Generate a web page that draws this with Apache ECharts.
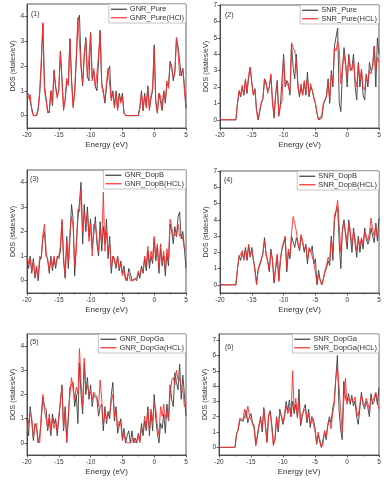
<!DOCTYPE html>
<html>
<head>
<meta charset="utf-8">
<script src="https://cdn.jsdelivr.net/npm/echarts@6/dist/echarts.min.js"></script>
<style>
  html, body { margin: 0; padding: 0; background: #fff; }
  #dos { width: 391px; height: 480px; }
</style>
</head>
<body>
<div id="dos"></div>
<script>
// energy grid (eV), 0.25 eV step
const energy = [
  -20,-19.75,-19.5,-19.25,-19,-18.75,-18.5,-18.25,-18,-17.75,-17.5,-17.25,-17,-16.75,-16.5,-16.25,-16,-15.75,-15.5,-15.25,
  -15,-14.75,-14.5,-14.25,-14,-13.75,-13.5,-13.25,-13,-12.75,-12.5,-12.25,-12,-11.75,-11.5,-11.25,-11,-10.75,-10.5,-10.25,
  -10,-9.75,-9.5,-9.25,-9,-8.75,-8.5,-8.25,-8,-7.75,-7.5,-7.25,-7,-6.75,-6.5,-6.25,-6,-5.75,-5.5,-5.25,
  -5,-4.75,-4.5,-4.25,-4,-3.75,-3.5,-3.25,-3,-2.75,-2.5,-2.25,-2,-1.75,-1.5,-1.25,-1,-0.75,-0.5,-0.25,
  0,0.25,0.5,0.75,1,1.25,1.5,1.75,2,2.25,2.5,2.75,3,3.25,3.5,3.75,4,4.25,4.5,4.75,
  5
];

const xTicks = [-20, -15, -10, -5, 0, 5];
const yTicksGnr = [0, 1, 2, 3, 4];
const yTicksSnr = [0, 1, 2, 3, 4, 5, 6, 7];

// (1) GNR pure
const gnrPure = [
  0.95,0.85,0.9,0.3, 0,0,0,0.2, 0.9,2.0,3.7,1.2, 0.7,0.2,0.1,1.0, 0.4,1.8,1.2,0.8,
  1.0,2.6,1.5,0.3, 0.6,1.4,1.3,3.1, 1.5,0.4,0.9,2.2, 3.8,4.05,2.1,1.2, 2.4,3.15,1.6,1.4,
  3.35,1.5,1.8,1.2, 1.0,2.2,3.45,1.3, 1.0,0.5,1.2,1.8, 2.0,0.7,1.0,0.4, 1.0,0.3,0.9,0.6,
  0.9,0.1,0,0, 0,0,0,0, 0,0,0,0.3, 1.0,0.2,0.9,0.4, 1.2,0.3,0.7,1.0,
  2.85,0.6,0.1,0.9, 0.9,0.2,1.0,0.5, 1.3,1.2,2.2,2.0, 1.4,1.8,3.1,2.8, 2.2,1.6,1.9,1.2,
  0.3
];
const gnrPureHcl = [
  0.9,0.7,0.85,0.2, 0,0,0,0.3, 1.0,2.3,3.75,1.0, 0.6,0.1,0.2,1.0, 0.5,1.85,1.1,0.7,
  1.1,2.55,1.4,0.2, 0.7,1.5,1.2,3.1, 1.4,0.3,1.0,2.4, 3.95,3.9,1.9,1.3, 2.5,3.05,1.5,1.5,
  3.3,1.4,1.9,1.1, 1.1,2.4,3.35,1.2, 0.9,0.6,1.3,1.9, 1.9,0.6,0.9,0.3, 0.9,0.2,0.8,0.5,
  0.8,0.1,0,0, 0,0,0,0, 0,0,0,0.4, 0.9,0.2,0.8,0.3, 1.1,0.2,0.8,1.1,
  2.7,0.5,0.1,0.9, 0.8,0.3,1.0,0.6, 1.4,1.1,2.1,1.9, 1.5,1.7,3.15,2.6, 1.6,1.7,1.9,1.0,
  0.3
];

// (2) SNR pure
const snrPure = [
  0,0,0,0, 0,0,0,0, 0,0,0,1.0, 1.7,1.4,2.0,1.5, 2.4,1.6,2.6,3.2,
  2.2,1.5,1.9,0.6, 0.0,0.5,1.0,1.3, 2.5,2.4,1.8,2.0, 2.7,1.2,0.1,1.5, 2.4,0.3,0.9,1.0,
  4.0,2.0,2.4,2.2, 1.5,4.6,3.2,2.5, 4.0,2.0,1.4,2.0, 1.5,2.3,1.5,2.9, 1.4,2.0,1.8,1.3,
  1.0,0.4,0.0,0.0, 0.1,0.9,0.8,1.5, 2.5,1.0,3.0,2.0, 4.5,4.4,5.6,1.0, 0.5,3.0,4.4,3.5,
  2.0,4.0,3.0,3.2, 4.0,2.0,1.2,3.5, 2.0,3.0,1.5,1.2, 2.8,2.0,3.5,3.0, 3.2,4.5,2.0,5.0,
  4.0
];
const snrPureHcl = [
  0,0,0,0, 0,0,0,0, 0,0,0,1.0, 1.8,1.5,2.1,1.5, 2.5,1.7,2.7,3.2,
  2.3,1.5,1.8,0.5, 0.0,0.6,1.1,1.3, 2.5,2.3,1.6,2.0, 2.8,1.0,0.3,1.6, 2.2,0.2,0.9,1.1,
  3.8,2.1,2.3,2.0, 1.7,4.7,4.4,4.2, 3.6,2.2,1.5,2.2, 1.5,2.4,1.6,2.6, 1.5,2.2,1.8,1.4,
  1.0,0.4,0.0,0.1, 0.3,1.0,0.9,1.4, 2.3,1.2,2.8,2.2, 4.4,4.2,4.8,4.3, 2.2,3.2,4.0,3.3,
  2.6,3.8,3.2,3.0, 3.6,2.5,2.0,3.4, 2.4,3.1,2.0,1.8, 2.7,2.2,3.0,2.8, 3.3,4.5,3.0,3.8,
  3.5
];

// (3) GNR B-doped
const gnrDopB = [
  0.9,0.5,1.0,0.3, 0.9,0.1,0.5,0.0, 0.8,1.0,1.7,2.0, 1.0,0.9,0.3,1.0, 0.4,0.9,0.5,1.0,
  0.9,1.2,2.4,0.8, 0.1,1.8,0.5,1.7, 3.1,2.5,0.2,1.5, 2.5,3.2,4.0,1.5, 3.1,2.0,3.0,1.8,
  2.5,1.3,1.9,2.6, 1.5,1.0,2.4,1.2, 2.2,1.5,2.5,0.9, 1.8,0.3,1.0,0.8, 0.5,1.0,0.4,0.8,
  0.3,0.6,0.1,0.0, 0.5,0.3,0.0,0.0, 0.1,0.0,0.3,0.1, 0.6,0.3,0.9,0.4, 1.2,0.5,1.0,0.7,
  1.7,0.8,1.4,0.3, 1.3,0.6,1.0,0.2, 1.1,0.6,2.3,2.0, 1.5,2.2,1.8,2.6, 2.8,1.7,2.0,1.3,
  0.5
];
const gnrDopBHcl = [
  1.1,0.7,0.9,0.4, 0.8,0.2,0.6,0.1, 1.0,0.9,1.9,2.3, 1.2,0.8,0.4,0.9, 0.6,1.0,0.6,0.9,
  1.0,1.4,2.5,1.0, 0.2,1.6,0.8,2.0, 2.6,2.2,0.6,1.2, 2.9,2.8,3.7,2.0, 2.8,2.3,2.7,1.6,
  2.3,1.0,2.3,2.2, 1.7,1.2,2.1,1.5, 3.6,1.2,2.0,1.2, 1.5,0.5,1.0,0.9, 0.6,1.0,0.5,0.7,
  0.2,0.4,0.0,0.0, 0.3,0.0,0.0,0.0, 0.0,0.1,0.4,0.2, 0.5,0.4,1.0,0.6, 1.4,0.7,1.2,0.9,
  1.8,1.0,1.5,0.5, 1.5,0.8,1.2,0.4, 1.3,0.9,2.5,2.2, 1.8,1.9,1.8,2.3, 1.8,1.9,1.7,1.3,
  1.3
];

// (4) SNR B-doped
const snrDopB = [
  0,0,0,0, 0,0,0,0, 0,0,0,1.0, 1.8,1.5,2.0,1.6, 2.3,1.5,2.4,1.7,
  2.3,1.5,1.0,0.1, 0.9,1.0,1.5,2.0, 2.9,1.8,1.5,0.8, 2.2,1.5,0.1,1.0, 1.8,0.3,1.5,2.2,
  2.5,2.9,0.8,2.0, 1.6,3.0,3.0,2.3, 2.9,2.5,2.1,3.0, 2.6,2.0,2.5,1.3, 2.2,2.0,2.4,1.3,
  1.6,0.0,0.9,0.3, 0.0,0.1,0.8,1.0, 1.5,1.2,3.0,1.5, 4.0,4.5,4.8,2.5, 1.0,3.5,4.0,3.0,
  2.2,4.0,3.0,2.0, 3.5,2.5,1.7,3.0, 2.0,2.8,2.2,3.5, 2.8,2.5,2.8,3.5, 3.0,2.6,3.8,2.7,
  4.1
];
const snrDopBHcl = [
  0,0,0,0, 0,0,0,0, 0,0,0,1.0, 1.7,1.6,2.1,1.5, 2.2,1.6,2.5,1.8,
  2.2,1.6,0.8,0.0, 1.0,1.1,1.6,1.9, 2.7,1.9,1.4,0.9, 2.0,1.6,0.2,1.1, 1.9,0.2,1.6,2.3,
  2.4,3.0,1.0,2.2, 1.8,3.2,4.2,3.8, 3.3,2.6,2.2,3.1, 2.6,2.2,2.4,1.5, 2.3,2.1,2.2,1.4,
  1.4,0.1,0.6,0.5, 0.0,0.3,0.9,1.2, 1.7,1.5,2.8,2.0, 4.3,4.6,5.2,3.6, 2.0,3.3,3.8,3.2,
  2.6,3.8,3.3,2.4, 3.3,2.8,2.1,2.8, 2.4,2.9,2.5,3.3, 3.0,2.7,3.2,4.1, 3.4,3.0,3.7,2.9,
  3.0
];

// (5) GNR Ga-doped
const gnrDopGa = [
  1.0,0.3,1.5,0.9, 0.1,0.8,0.6,0.0, 0.3,1.0,1.9,1.5, 1.4,0.5,1.0,0.3, 1.2,0.8,1.0,0.3,
  1.0,1.0,2.4,0.5, 1.5,0.1,1.0,2.3, 2.3,2.5,1.5,2.0, 0.8,3.3,2.0,1.2, 3.3,2.0,2.7,1.8,
  2.4,1.5,2.0,1.9, 1.8,1.1,1.5,1.6, 0.5,1.5,0.8,1.3, 1.0,2.0,2.5,0.9, 1.5,0.4,0.7,1.0,
  0.2,0.6,0.0,0.3, 0.5,0.0,0.5,0.0, 0.2,0.0,0.4,0.1, 0.8,0.3,0.9,0.5, 1.5,0.3,1.3,0.5,
  2.0,1.0,0.4,0.0, 0.8,0.6,1.2,0.4, 1.6,1.0,2.4,1.8, 1.5,2.9,2.5,2.2, 3.25,1.8,2.8,2.0,
  1.1
];
const gnrDopGaHcl = [
  0.4,0.9,1.2,1.0, 0.2,0.7,0.8,0.1, 0.0,1.2,2.0,1.3, 1.0,0.6,1.2,0.5, 1.0,0.6,0.9,0.5,
  1.1,1.1,2.3,0.6, 1.3,0.0,1.2,2.0, 2.7,2.2,1.8,2.3, 2.0,3.9,2.5,1.5, 3.5,2.3,2.4,2.0,
  2.1,1.8,2.1,2.0, 1.9,1.5,2.6,1.8, 0.7,1.3,1.0,1.1, 1.2,1.7,2.0,1.1, 1.3,0.6,0.9,0.8,
  0.1,0.4,0.1,0.0, 0.0,0.0,0.1,0.2, 0.0,0.1,0.3,0.0, 0.6,0.5,1.1,0.6, 1.4,0.5,1.4,0.9,
  1.6,1.4,0.7,0.3, 1.5,1.1,1.6,1.0, 1.3,0.9,2.0,2.6, 2.7,2.4,3.0,2.6, 2.7,2.3,2.2,1.5,
  1.6
];

// (6) SNR Ga-doped
const snrDopGa = [
  0,0,0,0, 0,0,0,0, 0,0,0,0.9, 1.1,1.8,1.9,1.7, 2.0,2.4,1.6,2.0,
  2.2,1.6,1.4,0.2, 0.7,1.4,2.0,1.0, 2.6,1.5,0.4,2.1, 2.4,1.5,0.2,0.5, 2.0,1.0,2.5,2.0,
  1.5,2.2,3.0,2.4, 3.1,2.0,3.0,2.2, 2.8,2.0,3.8,1.4, 2.0,2.5,2.8,1.6, 2.5,1.3,2.0,1.8,
  1.3,0.2,0.8,0.5, 0.0,0.0,1.0,0.5, 1.5,2.0,1.6,2.5, 3.0,4.5,6.0,2.5, 1.2,0.5,4.3,3.2,
  3.0,3.5,2.8,3.4, 2.7,3.0,2.0,1.5, 2.5,3.6,2.8,2.5, 3.0,2.6,2.0,3.5, 2.8,3.0,3.5,2.8,
  3.9
];
const snrDopGaHcl = [
  0,0,0,0, 0,0,0,0, 0,0,0,0.9, 1.2,1.9,2.0,1.8, 2.5,1.9,2.7,2.1,
  1.8,1.5,1.2,0.1, 0.8,1.5,1.8,1.2, 2.5,1.4,0.3,2.0, 2.3,1.3,0.1,0.6, 1.9,1.2,2.3,2.1,
  1.6,2.0,2.7,2.2, 2.6,2.0,5.0,2.4, 3.2,1.9,3.0,1.6, 2.2,2.3,2.5,1.8, 2.2,1.5,2.0,1.5,
  1.1,0.3,1.0,0.3, 0.0,0.2,1.1,0.7, 1.4,1.8,1.2,2.2, 2.8,4.5,5.2,4.0, 2.5,1.0,3.0,4.5,
  2.8,3.2,3.0,3.2, 2.9,3.3,2.4,2.0, 2.8,3.4,3.0,2.7, 3.2,2.9,2.4,3.3, 3.0,3.3,3.6,3.0,
  2.5
];

const panelLabels = ['(1)', '(2)', '(3)', '(4)', '(5)', '(6)'];
const seriesNames = [
  ['GNR_Pure', 'GNR_Pure(HCl)'],
  ['SNR_Pure', 'SNR_Pure(HCL)'],
  ['GNR_DopB', 'GNR_DopB(HCL)'],
  ['SNR_DopB', 'SNR_DopB(HCL)'],
  ['GNR_DopGa', 'GNR_DopGa(HCL)'],
  ['SNR_DopGa', 'SNR_DopGa(HCL)']
];
const seriesValues = [
  [gnrPure, gnrPureHcl],
  [snrPure, snrPureHcl],
  [gnrDopB, gnrDopBHcl],
  [snrDopB, snrDopBHcl],
  [gnrDopGa, gnrDopGaHcl],
  [snrDopGa, snrDopGaHcl]
];

// layout of the 6 panels (px)
const layout = [
  {left: 27, top: 4, width: 159, height: 124, yMax: 4.5, ticks: yTicksGnr, tx: 31, ty: 11},
  {left: 220, top: 5, width: 159, height: 123, yMax: 7, ticks: yTicksSnr, tx: 225, ty: 12},
  {left: 27, top: 170, width: 159, height: 123, yMax: 4.5, ticks: yTicksGnr, tx: 30, ty: 176},
  {left: 220, top: 171, width: 159, height: 122, yMax: 7, ticks: yTicksSnr, tx: 224, ty: 177},
  {left: 27, top: 334, width: 159, height: 121, yMax: 4.5, ticks: yTicksGnr, tx: 30, ty: 339},
  {left: 219, top: 334, width: 160, height: 121, yMax: 7.4, ticks: yTicksSnr, tx: 225, ty: 344}
];

const lineColors = ['#3c3c3c', '#ff2b2b'];
const font = 'Liberation Sans, Arial, sans-serif';
const txt = '#333';

let option = () => {
  const grid = [], xAxis = [], yAxis = [], series = [], legend = [], title = [];
  layout.forEach((p, i) => {
    grid.push({
      left: p.left, top: p.top, width: p.width, height: p.height,
      show: true, borderColor: '#333', borderWidth: 0.8
    });
    xAxis.push({
      gridIndex: i, type: 'value', min: -20, max: 5, interval: 5,
      name: 'Energy (eV)', nameLocation: 'middle', nameGap: 13,
      nameTextStyle: {fontSize: 8, color: txt, fontFamily: font},
      axisLine: {onZero: false, lineStyle: {color: '#333', width: 0.8}},
      axisTick: {length: 2.5, lineStyle: {color: '#333', width: 0.8}},
      minorTick: {show: true, splitNumber: 2, length: 1.5, lineStyle: {color: '#333', width: 0.6}},
      axisLabel: {fontSize: 6.5, color: txt, fontFamily: font, margin: 4,
        customValues: xTicks, formatter: v => String(v)},
      splitLine: {show: false}
    });
    yAxis.push({
      gridIndex: i, type: 'value', min: -0.5, max: p.yMax,
      name: 'DOS (states/eV)', nameLocation: 'middle', nameGap: 7,
      nameTextStyle: {fontSize: 7, color: txt, fontFamily: font},
      axisLine: {show: true, onZero: false, lineStyle: {color: '#333', width: 0.8}},
      axisTick: {show: true, length: 2.5, customValues: p.ticks, lineStyle: {color: '#333', width: 0.8}},
      axisLabel: {fontSize: 6.5, color: txt, fontFamily: font, margin: 3, customValues: p.ticks},
      splitLine: {show: false}
    });
    seriesNames[i].forEach((name, k) => {
      series.push({
        name, type: 'line', xAxisIndex: i, yAxisIndex: i,
        symbol: 'none', animation: false,
        lineStyle: {color: lineColors[k], width: 0.9},
        itemStyle: {color: lineColors[k]},
        data: energy.map((e, j) => [e, seriesValues[i][k][j]])
      });
    });
    legend.push({
      data: seriesNames[i], orient: 'vertical',
      right: 391 - p.left - p.width, top: p.top,
      icon: 'rect', itemWidth: 16, itemHeight: 1.2, itemGap: 0,
      padding: [1, 2, 1, 2],
      borderColor: '#aaa', borderWidth: 0.7, backgroundColor: '#fff',
      textStyle: {fontSize: 7.5, lineHeight: 8.5, color: txt, fontFamily: font, padding: [0, 0, 0, -2]}
    });
    title.push({
      text: panelLabels[i], left: p.tx, top: p.ty, padding: 0,
      textStyle: {fontSize: 7, fontWeight: 'normal', color: txt, fontFamily: font}
    });
  });
  return {backgroundColor: '#fff', animation: false, grid, xAxis, yAxis, series, legend, title};
};

const myChart = echarts.init(document.getElementById('dos'), null, {renderer: 'canvas'});
myChart.setOption(option());
</script>
</body>
</html>
